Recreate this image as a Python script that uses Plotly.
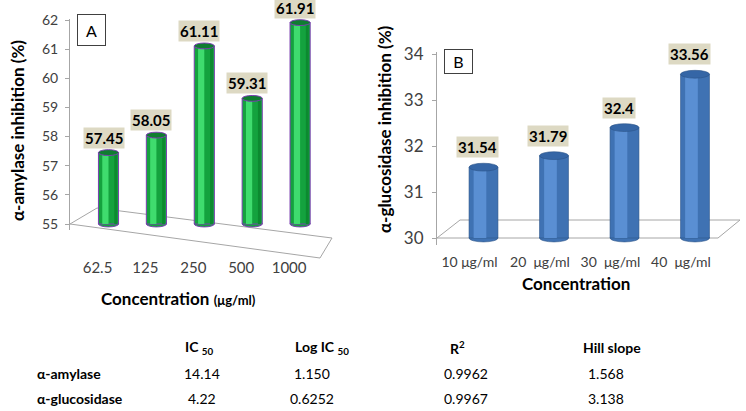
import plotly.graph_objects as go

# ---------------- data ----------------
conc_a = ["62.5", "125", "250", "500", "1000"]
amylase = [57.45, 58.05, 61.11, 59.31, 61.91]

conc_b = ["10 μg/ml", "20\u00a0 μg/ml", "30\u00a0 μg/ml", "40\u00a0 μg/ml"]
glucosidase = [31.54, 31.79, 32.4, 33.56]

table_cols = ["IC <sub>50</sub>", "Log IC <sub>50</sub>", "R<sup>2</sup>", "Hill slope"]
table_rows = ["α-amylase", "α-glucosidase"]
ic50 = ["14.14", "4.22"]
log_ic50 = ["1.150", "0.6252"]
r2 = ["0.9962", "0.9967"]
hill = ["1.568", "3.138"]

# ---------------- helpers ----------------
W, H = 746, 411
FONT = "Lato"


def px(x):
    return x / W


def py(y):
    return 1 - y / H


fig = go.Figure()

# ---- panel A : green cylinders ----
wa = 0.42
xa = list(range(len(conc_a)))
ha = [v - 55 for v in amylase]
fig.add_trace(go.Bar(x=xa, y=ha, base=55, width=wa,
                     marker=dict(color="#14a23e", line=dict(color="#7a3fb0", width=1)),
                     xaxis="x", yaxis="y", hoverinfo="skip"))
fig.add_trace(go.Bar(x=xa, y=ha, base=55, width=0.13, offset=-0.13,
                     marker=dict(color="#3fdc6e", line=dict(width=0)),
                     xaxis="x", yaxis="y", hoverinfo="skip"))
fig.add_trace(go.Bar(x=xa, y=ha, base=55, width=0.06, offset=0.12,
                     marker=dict(color="#0c8a30", line=dict(width=0)),
                     xaxis="x", yaxis="y", hoverinfo="skip"))

# ---- panel B : blue cylinders ----
wb = 0.41
xb = list(range(len(conc_b)))
hb = [v - 30 for v in glucosidase]
fig.add_trace(go.Bar(x=xb, y=hb, base=30, width=wb,
                     marker=dict(color="#3f72b3", line=dict(color="#2c5488", width=0.6)),
                     xaxis="x2", yaxis="y2", hoverinfo="skip"))
fig.add_trace(go.Bar(x=xb, y=hb, base=30, width=0.18, offset=-0.14,
                     marker=dict(color="#5a8fd3", line=dict(width=0)),
                     xaxis="x2", yaxis="y2", hoverinfo="skip"))

shapes = []
# floors (decoration)
shapes.append(dict(type="path", xref="paper", yref="paper", layer="below",
                   path=f"M {px(70)} {py(224)} L {px(97)} {py(208)} L {px(332)} {py(238)} L {px(320)} {py(258)} Z",
                   line=dict(color="#a6a6a6", width=1), fillcolor="rgba(0,0,0,0)"))
shapes.append(dict(type="path", xref="paper", yref="paper", layer="below",
                   path=f"M {px(437)} {py(238)} L {px(460)} {py(220)} L {px(740)} {py(220)} L {px(718)} {py(238)} Z",
                   line=dict(color="#a6a6a6", width=1), fillcolor="rgba(0,0,0,0)"))

# cylinder caps A
ea = 0.1
for i, v in enumerate(amylase):
    shapes.append(dict(type="circle", xref="x", yref="y", layer="below",
                       x0=i - wa / 2, x1=i + wa / 2, y0=55 - ea, y1=55 + ea,
                       fillcolor="#14a23e", line=dict(color="#7a3fb0", width=1)))
    shapes.append(dict(type="circle", xref="x", yref="y", layer="above",
                       x0=i - wa / 2, x1=i + wa / 2, y0=v - ea, y1=v + ea,
                       fillcolor="#0f7d30", line=dict(color="#7a3fb0", width=1)))
# cylinder caps B
eb = 0.085
for i, v in enumerate(glucosidase):
    shapes.append(dict(type="circle", xref="x2", yref="y2", layer="below",
                       x0=i - wb / 2, x1=i + wb / 2, y0=30 - eb, y1=30 + eb,
                       fillcolor="#3f72b3", line=dict(color="#2c5488", width=0.6)))
    shapes.append(dict(type="circle", xref="x2", yref="y2", layer="above",
                       x0=i - wb / 2, x1=i + wb / 2, y0=v - eb, y1=v + eb,
                       fillcolor="#3566a6", line=dict(color="#2c5488", width=0.6)))

annotations = []


def note(x, y, text, size, **kw):
    d = dict(x=px(x), y=py(y), xref="paper", yref="paper", text=text, showarrow=False,
             xanchor="center", yanchor="middle", font=dict(family=FONT, size=size, color="#000"))
    d.update(kw)
    annotations.append(d)


# value labels
for i, v in enumerate(amylase):
    annotations.append(dict(x=i, y=v + ea, xref="x", yref="y", text=f"<b>{v:g}</b>",
                            showarrow=False, xanchor="center", yanchor="bottom", yshift=1, xshift=-5,
                            bgcolor="#ddd9c3", borderpad=1,
                            font=dict(family=FONT, size=15, color="#000")))
for i, v in enumerate(glucosidase):
    annotations.append(dict(x=i, y=v + eb, xref="x2", yref="y2", text=f"<b>{v:g}</b>",
                            showarrow=False, xanchor="center", yanchor="bottom", yshift=5, xshift=-6,
                            bgcolor="#ddd9c3", borderpad=1,
                            font=dict(family=FONT, size=15, color="#000")))

# panel letters
note(91, 30, "A", 16, width=25, height=28, bordercolor="#404040", borderwidth=1, bgcolor="white")
note(458, 61, "B", 16, width=25, height=21, bordercolor="#404040", borderwidth=1, bgcolor="white")

# axis titles
note(18, 131, "<b>α-amylase inhibition (%)</b>", 17, textangle=-90)
note(178, 298, "<b>Concentration</b> <b><span style='font-size:13px'>(μg/ml)</span></b>", 17)
note(385, 129, "<b>α-glucosidase inhibition (%)</b>", 17, textangle=-90)
note(576, 283, "<b>Concentration</b>", 17)

# table
col_header_x = [199, 322, 457, 612]
col_value_x = [202, 312, 466, 606]
row_y = [373, 398]
for c, name in enumerate(table_cols):
    note(col_header_x[c], 347, f"<b>{name}</b>", 14)
columns = [ic50, log_ic50, r2, hill]
for r, label in enumerate(table_rows):
    note(35, row_y[r], f"<b>{label}</b>", 14, xanchor="left")
    for c, col in enumerate(columns):
        note(col_value_x[c], row_y[r], col[r], 14)

# axis geometry
ya_unit = (224 - 20) / 7.0
ya_lo, ya_hi = 54.8, 62.05
yb_unit = (238 - 54) / 4.0
yb_lo, yb_hi = 29.85, 34.05

fig.update_layout(
    width=W, height=H, margin=dict(l=0, r=0, t=0, b=0, pad=0), autosize=False,
    paper_bgcolor="white", plot_bgcolor="rgba(0,0,0,0)",
    barmode="overlay", showlegend=False,
    font=dict(family=FONT, color="#404040"),
    shapes=shapes, annotations=annotations,
    xaxis=dict(domain=[px(70), px(330)], range=[(70 - 108.5) / 47.9, (330 - 108.5) / 47.9],
               tickmode="array", tickvals=xa, ticktext=conc_a, automargin=False,
               showline=False, ticks="", showgrid=False, zeroline=False,
               tickfont=dict(family=FONT, size=15, color="#404040"),
               ticklabelstandoff=27, ticklabelshift=-11, anchor="y"),
    yaxis=dict(domain=[py(224 + (55 - ya_lo) * ya_unit), py(20 - (ya_hi - 62) * ya_unit)],
               range=[ya_lo, ya_hi], tickmode="array", tickvals=list(range(55, 63)), automargin=False,
               showline=True, linecolor="#a6a6a6", ticks="outside", ticklen=4, tickcolor="#a6a6a6",
               showgrid=False, zeroline=False, ticklabelstandoff=4,
               tickfont=dict(family=FONT, size=14, color="#404040"), anchor="x"),
    xaxis2=dict(domain=[px(437), px(730)], range=[(437 - 483.5) / 70.5, (730 - 483.5) / 70.5],
                tickmode="array", tickvals=xb, ticktext=conc_b, automargin=False,
                showline=False, ticks="", showgrid=False, zeroline=False,
                tickfont=dict(family=FONT, size=14, color="#404040"),
                ticklabelstandoff=7, ticklabelshift=-14, anchor="y2"),
    yaxis2=dict(domain=[py(238 + (30 - yb_lo) * yb_unit), py(54 - (yb_hi - 34) * yb_unit)],
                range=[yb_lo, yb_hi], tickmode="array", tickvals=list(range(30, 35)), automargin=False,
                showline=True, linecolor="#a6a6a6", ticks="outside", ticklen=4, tickcolor="#a6a6a6",
                showgrid=False, zeroline=False, ticklabelstandoff=5,
                tickfont=dict(family=FONT, size=17, color="#404040"), anchor="x2"),
)

fig.write_html("out.html", config={"displayModeBar": False},
               post_script="document.body.style.margin='0';")
